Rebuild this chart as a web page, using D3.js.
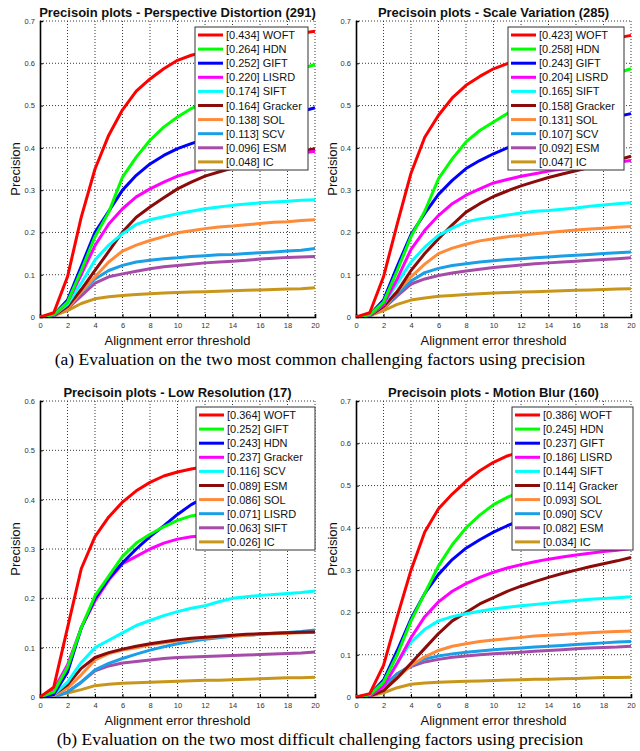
<!DOCTYPE html>
<html><head><meta charset="utf-8">
<script src="https://cdn.jsdelivr.net/npm/d3@7"></script>
<style>body{margin:0;background:#fff}svg{display:block}</style>
</head><body>
<script>
// ---------------- DATA ----------------
const thresholds = [0,1,2,3,4,5,6,7,8,9,10,11,12,13,14,15,16,17,18,19,20];
const xTicks = [0,2,4,6,8,10,12,14,16,18,20];
const yTicks07 = [0,0.1,0.2,0.3,0.4,0.5,0.6,0.7];
const yTicks06 = [0,0.1,0.2,0.3,0.4,0.5,0.6];
const rankColors = ["#ff0000","#00ff00","#0000ff","#ff00ff","#00ffff","#8b0a0a","#ff8a38","#1a9fe6","#a64ca8","#c8961a"];

const titles = ["Precisoin plots - Perspective Distortion (291)","Precisoin plots - Scale Variation (285)","Precisoin plots - Low Resolution (17)","Precisoin plots - Motion Blur (160)"];
const captions = ["(a) Evaluation on the two most common challenging factors using precision","(b) Evaluation on the two most difficult challenging factors using precision"];

// Perspective Distortion
const namesPD = ["WOFT","HDN","GIFT","LISRD","SIFT","Gracker","SOL","SCV","ESM","IC"];
const scoresPD = ["0.434","0.264","0.252","0.220","0.174","0.164","0.138","0.113","0.096","0.048"];
const valuesPD = [
 [0,0.010,0.095,0.236,0.350,0.430,0.490,0.534,0.563,0.587,0.607,0.619,0.627,0.635,0.643,0.650,0.655,0.661,0.666,0.671,0.676],
 [0,0.005,0.035,0.110,0.190,0.248,0.331,0.378,0.418,0.449,0.473,0.493,0.508,0.522,0.535,0.548,0.558,0.568,0.577,0.587,0.597],
 [0,0.005,0.040,0.120,0.200,0.250,0.300,0.335,0.362,0.382,0.398,0.410,0.421,0.430,0.440,0.449,0.458,0.467,0.476,0.486,0.495],
 [0,0.004,0.035,0.100,0.169,0.220,0.256,0.284,0.303,0.319,0.333,0.343,0.351,0.356,0.362,0.367,0.372,0.377,0.382,0.387,0.392],
 [0,0.004,0.030,0.080,0.135,0.170,0.197,0.219,0.230,0.237,0.244,0.250,0.256,0.260,0.264,0.267,0.270,0.272,0.274,0.276,0.277],
 [0,0.003,0.025,0.065,0.110,0.155,0.201,0.236,0.260,0.282,0.303,0.319,0.333,0.343,0.352,0.362,0.370,0.378,0.385,0.392,0.398],
 [0,0.003,0.020,0.060,0.095,0.130,0.156,0.170,0.181,0.190,0.199,0.204,0.209,0.213,0.215,0.218,0.221,0.224,0.225,0.228,0.230],
 [0,0.003,0.025,0.060,0.090,0.110,0.122,0.130,0.134,0.138,0.140,0.143,0.145,0.147,0.148,0.150,0.152,0.154,0.156,0.158,0.162],
 [0,0.003,0.020,0.050,0.080,0.095,0.102,0.108,0.114,0.119,0.122,0.125,0.128,0.130,0.132,0.134,0.137,0.139,0.141,0.142,0.143],
 [0,0.003,0.015,0.032,0.043,0.048,0.051,0.053,0.055,0.057,0.058,0.059,0.060,0.061,0.062,0.063,0.064,0.065,0.066,0.067,0.069]
];

// Scale Variation
const namesSV = ["WOFT","HDN","GIFT","LISRD","SIFT","Gracker","SOL","SCV","ESM","IC"];
const scoresSV = ["0.423","0.258","0.243","0.204","0.165","0.158","0.131","0.107","0.092","0.047"];
const valuesSV = [
 [0,0.010,0.095,0.220,0.340,0.425,0.477,0.518,0.548,0.569,0.587,0.599,0.608,0.616,0.624,0.632,0.640,0.647,0.653,0.660,0.666],
 [0,0.005,0.035,0.110,0.190,0.250,0.327,0.374,0.414,0.441,0.461,0.481,0.496,0.510,0.522,0.534,0.546,0.557,0.567,0.577,0.587],
 [0,0.005,0.040,0.120,0.195,0.245,0.290,0.323,0.351,0.370,0.386,0.400,0.411,0.420,0.430,0.440,0.449,0.458,0.466,0.474,0.481],
 [0,0.004,0.030,0.090,0.160,0.205,0.240,0.268,0.288,0.303,0.317,0.325,0.333,0.339,0.345,0.350,0.354,0.358,0.362,0.366,0.370],
 [0,0.004,0.030,0.080,0.130,0.165,0.193,0.210,0.225,0.232,0.236,0.241,0.246,0.250,0.252,0.255,0.258,0.262,0.265,0.268,0.270],
 [0,0.003,0.025,0.060,0.110,0.150,0.185,0.218,0.248,0.268,0.285,0.298,0.310,0.320,0.330,0.338,0.346,0.354,0.362,0.371,0.380],
 [0,0.003,0.020,0.060,0.095,0.125,0.150,0.163,0.172,0.180,0.185,0.190,0.193,0.197,0.200,0.203,0.206,0.208,0.210,0.212,0.214],
 [0,0.003,0.022,0.055,0.085,0.105,0.115,0.122,0.126,0.130,0.133,0.136,0.138,0.140,0.142,0.144,0.146,0.148,0.150,0.152,0.154],
 [0,0.003,0.020,0.050,0.078,0.090,0.098,0.104,0.109,0.113,0.117,0.120,0.123,0.126,0.128,0.130,0.132,0.134,0.136,0.138,0.140],
 [0,0.003,0.015,0.030,0.040,0.045,0.049,0.051,0.053,0.055,0.057,0.058,0.059,0.060,0.061,0.062,0.063,0.064,0.065,0.066,0.067]
];

// Low Resolution
const namesLR = ["WOFT","GIFT","HDN","Gracker","SCV","ESM","SOL","LISRD","SIFT","IC"];
const scoresLR = ["0.364","0.252","0.243","0.237","0.116","0.089","0.086","0.071","0.063","0.026"];
const valuesLR = [
 [0,0.020,0.140,0.260,0.325,0.365,0.395,0.418,0.435,0.448,0.456,0.462,0.467,0.470,0.473,0.476,0.479,0.482,0.485,0.488,0.490],
 [0,0.010,0.060,0.140,0.205,0.245,0.285,0.312,0.330,0.345,0.358,0.367,0.372,0.377,0.383,0.388,0.392,0.396,0.400,0.404,0.408],
 [0,0.005,0.050,0.140,0.200,0.240,0.272,0.300,0.325,0.347,0.370,0.390,0.405,0.420,0.435,0.450,0.463,0.475,0.487,0.499,0.510],
 [0,0.015,0.065,0.140,0.195,0.237,0.270,0.285,0.300,0.312,0.320,0.325,0.327,0.329,0.330,0.331,0.332,0.334,0.335,0.337,0.338],
 [0,0.005,0.030,0.070,0.100,0.115,0.130,0.145,0.155,0.165,0.173,0.180,0.185,0.193,0.200,0.203,0.206,0.208,0.210,0.212,0.215],
 [0,0.005,0.025,0.058,0.080,0.090,0.097,0.103,0.108,0.112,0.116,0.119,0.121,0.123,0.125,0.127,0.128,0.129,0.130,0.131,0.132],
 [0,0.003,0.018,0.045,0.075,0.088,0.095,0.100,0.106,0.110,0.114,0.117,0.120,0.122,0.124,0.125,0.127,0.128,0.129,0.130,0.131],
 [0,0.000,0.010,0.030,0.055,0.068,0.078,0.087,0.095,0.102,0.108,0.113,0.117,0.120,0.123,0.125,0.127,0.129,0.131,0.133,0.136],
 [0,0.000,0.010,0.030,0.053,0.063,0.069,0.072,0.075,0.078,0.080,0.081,0.082,0.083,0.084,0.085,0.086,0.087,0.088,0.089,0.091],
 [0,0.003,0.008,0.015,0.023,0.026,0.028,0.029,0.030,0.031,0.032,0.033,0.034,0.034,0.035,0.036,0.037,0.038,0.039,0.039,0.040]
];

// Motion Blur
const namesMB = ["WOFT","HDN","GIFT","LISRD","SIFT","Gracker","SOL","SCV","ESM","IC"];
const scoresMB = ["0.386","0.245","0.237","0.186","0.144","0.114","0.093","0.090","0.082","0.034"];
const valuesMB = [
 [0,0.008,0.075,0.190,0.300,0.390,0.445,0.480,0.510,0.535,0.555,0.570,0.580,0.590,0.598,0.606,0.614,0.621,0.628,0.634,0.640],
 [0,0.005,0.035,0.100,0.180,0.245,0.310,0.360,0.400,0.430,0.455,0.472,0.487,0.500,0.512,0.523,0.533,0.543,0.552,0.560,0.568],
 [0,0.005,0.040,0.110,0.185,0.245,0.290,0.325,0.352,0.372,0.390,0.405,0.418,0.428,0.438,0.447,0.456,0.465,0.473,0.482,0.490],
 [0,0.003,0.025,0.080,0.140,0.190,0.225,0.250,0.268,0.283,0.295,0.305,0.313,0.320,0.326,0.331,0.336,0.340,0.344,0.347,0.351],
 [0,0.003,0.030,0.080,0.130,0.160,0.180,0.190,0.197,0.203,0.208,0.212,0.216,0.219,0.222,0.225,0.228,0.231,0.233,0.235,0.237],
 [0,0.002,0.015,0.045,0.080,0.115,0.150,0.180,0.200,0.220,0.235,0.250,0.262,0.273,0.283,0.292,0.300,0.308,0.315,0.322,0.330],
 [0,0.002,0.015,0.045,0.075,0.095,0.110,0.120,0.126,0.131,0.135,0.138,0.141,0.144,0.146,0.148,0.150,0.152,0.154,0.155,0.156],
 [0,0.003,0.025,0.055,0.075,0.090,0.097,0.102,0.106,0.109,0.112,0.114,0.116,0.118,0.120,0.122,0.124,0.126,0.128,0.130,0.131],
 [0,0.003,0.025,0.055,0.072,0.083,0.089,0.094,0.097,0.100,0.102,0.104,0.106,0.108,0.110,0.112,0.114,0.116,0.117,0.118,0.120],
 [0,0.002,0.010,0.022,0.030,0.033,0.035,0.036,0.037,0.038,0.039,0.040,0.041,0.042,0.042,0.043,0.044,0.045,0.046,0.046,0.047]
];

// ---------------- LAYOUT ----------------
const panels = [
 {title:titles[0], names:namesPD, scores:scoresPD, values:valuesPD, yMax:0.7, yTicks:yTicks07, L:40, R:315, T:21, B:317, lx:195, ly:27, lw:113},
 {title:titles[1], names:namesSV, scores:scoresSV, values:valuesSV, yMax:0.7, yTicks:yTicks07, L:356, R:631, T:21, B:317, lx:508, ly:27, lw:116},
 {title:titles[2], names:namesLR, scores:scoresLR, values:valuesLR, yMax:0.6, yTicks:yTicks06, L:40, R:315, T:401, B:697, lx:196, ly:407, lw:119},
 {title:titles[3], names:namesMB, scores:scoresMB, values:valuesMB, yMax:0.7, yTicks:yTicks07, L:356, R:631, T:401, B:697, lx:512, ly:407, lw:121}
];

const svg = d3.select("body").append("svg").attr("width",640).attr("height",751)
  .style("font-family","'Liberation Sans', Arial, sans-serif");

panels.forEach((p,pi)=>{
  const x = d3.scaleLinear().domain([0,20]).range([p.L,p.R]);
  const y = d3.scaleLinear().domain([0,p.yMax]).range([p.B,p.T]);
  const g = svg.append("g");
  const clipId = "clip"+pi;
  g.append("clipPath").attr("id",clipId).append("rect")
    .attr("x",p.L).attr("y",p.T-2).attr("width",p.R-p.L+2).attr("height",p.B-p.T+2);

  // grid
  g.selectAll(".vg").data(xTicks.filter(t=>t>0)).join("line")
    .attr("x1",d=>x(d)).attr("x2",d=>x(d)).attr("y1",p.T).attr("y2",p.B)
    .attr("stroke","#222").attr("stroke-width",0.9).attr("stroke-dasharray","1,2");
  g.selectAll(".hg").data(p.yTicks.filter(t=>t>0)).join("line")
    .attr("x1",p.L).attr("x2",p.R).attr("y1",d=>y(d)).attr("y2",d=>y(d))
    .attr("stroke","#222").attr("stroke-width",0.9).attr("stroke-dasharray","1,2");

  // axes
  const xa = g.append("g").attr("transform",`translate(0,${p.B})`)
    .call(d3.axisBottom(x).tickValues(xTicks).tickSize(-3).tickPadding(6).tickFormat(d3.format("d")));
  const ya = g.append("g").attr("transform",`translate(${p.L},0)`)
    .call(d3.axisLeft(y).tickValues(p.yTicks).tickSize(-3).tickPadding(5).tickFormat(d=>d===0?"0":d3.format(".1f")(d)));
  [xa,ya].forEach(a=>{
    a.select(".domain").attr("stroke","#000").attr("stroke-width",1.6);
    a.selectAll(".tick line").attr("stroke","#000").attr("stroke-width",1);
    a.selectAll(".tick text").attr("fill","#333").style("font-size","7.5px").style("font-family","'Liberation Sans', Arial, sans-serif");
  });

  // lines (red drawn last so it sits on top)
  const line = d3.line().x((d,i)=>x(thresholds[i])).y(d=>y(d));
  const lg = g.append("g").attr("clip-path",`url(#${clipId})`);
  const order = p.values.map((v,i)=>i).reverse();
  lg.selectAll("path").data(order).join("path")
    .attr("d",i=>line(p.values[i])).attr("fill","none")
    .attr("stroke",i=>rankColors[i]).attr("stroke-width",3)
    .attr("stroke-linejoin","round").attr("stroke-linecap","butt");

  // title
  svg.append("text").attr("x",(p.L+p.R)/2).attr("y",p.T-4.5).attr("text-anchor","middle")
    .style("font-size","13px").style("font-weight","bold").attr("fill","#111").text(p.title);

  // y label
  const yl = pi%2===0 ? 20 : 337;
  svg.append("text").attr("transform",`translate(${yl},${(p.T+p.B)/2}) rotate(-90)`)
    .attr("text-anchor","middle").style("font-size","13px").attr("fill","#111").text("Precision");

  // x label
  svg.append("text").attr("x",(p.L+p.R)/2).attr("y",p.B+28).attr("text-anchor","middle")
    .style("font-size","13px").attr("fill","#111").text("Alignment error threshold");

  // legend
  const lgd = svg.append("g");
  lgd.append("rect").attr("x",p.lx).attr("y",p.ly).attr("width",p.lw).attr("height",143)
    .attr("fill","#fff").attr("stroke","#333").attr("stroke-width",1);
  p.names.forEach((n,i)=>{
    const cy = p.ly+8+i*14.1;
    lgd.append("line").attr("x1",p.lx+3).attr("x2",p.lx+28).attr("y1",cy).attr("y2",cy)
      .attr("stroke",rankColors[i]).attr("stroke-width",3);
    lgd.append("text").attr("x",p.lx+31).attr("y",cy+4).style("font-size","11px").attr("fill","#111")
      .text(`[${p.scores[i]}] ${n}`);
  });
});

// captions
svg.append("text").attr("x",320).attr("y",364.5).attr("text-anchor","middle")
  .style("font-family","'Liberation Serif','Times New Roman',serif").style("font-size","17.5px").attr("fill","#000").text(captions[0]);
svg.append("text").attr("x",320).attr("y",744.5).attr("text-anchor","middle")
  .style("font-family","'Liberation Serif','Times New Roman',serif").style("font-size","17.5px").attr("fill","#000").text(captions[1]);
</script>
</body></html>
